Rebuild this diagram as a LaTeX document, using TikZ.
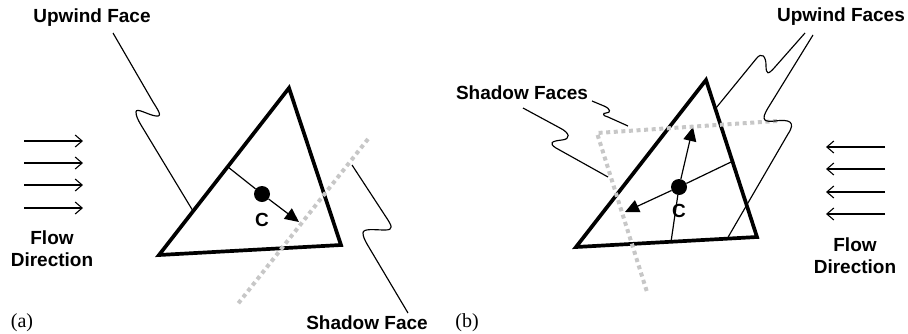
\documentclass[tikz,border=0pt]{standalone}
\usepackage{fontspec}
\setmainfont{Liberation Serif}
\setsansfont{Liberation Sans}
\usetikzlibrary{arrows.meta}

\tikzset{
  edgeline/.style={line width=3.7pt, line join=miter, line cap=round},
  leader/.style={line width=1.15pt},
  flowarrow/.style={line width=1.1pt, -{Straight Barb[length=7pt,width=12pt,line width=1.1pt]}},
  normalvec/.style={line width=1.2pt, -{Triangle[length=14pt,width=13pt]}},
  plainvec/.style={line width=1.2pt},
  centroid/.style={circle, fill=black, inner sep=0pt, minimum size=16pt},
  shadowline/.style={line width=4pt, color=black!22, dash pattern=on 4pt off 3.6pt},
  lbl/.style={font=\sffamily\bfseries\fontsize{19}{22}\selectfont, inner sep=0pt, align=center},
  panel/.style={font=\rmfamily\fontsize{20}{22}\selectfont, inner sep=0pt}
}

\begin{document}
\begin{tikzpicture}[x=1pt, y=-1pt]
\useasboundingbox (0,0) rectangle (908,333);

% ---------------- panel (a): flow from the left ----------------
\coordinate (a1) at (159,255);
\coordinate (b1) at (289,88);
\coordinate (c1) at (341,245);
\draw[edgeline] (a1) -- (b1) -- (c1) -- cycle;

% centroid and normal towards the shadow face
\coordinate (u1) at (228,167);
\node[centroid] (cc1) at (262,194) {};
\coordinate (t1) at (299,222);
\draw[plainvec] (u1) -- (cc1);
\draw[normalvec] (cc1) -- (t1);
\node[lbl] (clab1) at (262,220) {C};

% shadow plane
\coordinate (s1a) at (368,139);
\coordinate (s1b) at (237,305);
\draw[shadowline] (s1a) -- (s1b);

% flow arrows
\foreach \yy [count=\i] in {141,163,185,208} {
  \coordinate (fl\i s) at (24,\yy);
  \coordinate (fl\i e) at (83,\yy);
  \draw[flowarrow] (fl\i s) -- (fl\i e);
}
\node[lbl] (flow1) at (52,249) {Flow\\Direction};

% labels and leaders
\node[lbl] (up1) at (92,18) {Upwind Face};
\coordinate (up1s) at (113,33);
\coordinate (up1e) at (193,211);
\draw[leader] (up1s) -- (153,102)
  .. controls (158,110) and (163,117) .. (156,116)
  .. controls (148,115) and (136,107) .. (136,112)
  .. controls (136,116) and (138,120) .. (141,125) -- (up1e);

\node[lbl] (sh1) at (367,323) {Shadow Face};
\coordinate (sh1s) at (352,165);
\coordinate (sh1e) at (408,313);
\draw[leader] (sh1s) -- (386,217)
  .. controls (392,226) and (394,230) .. (385,230)
  .. controls (375,230) and (363,228) .. (363,233)
  .. controls (363,237) and (365,240) .. (367,244) -- (sh1e);

\node[panel] (pa) at (22,323) {(a)};

% ---------------- panel (b): flow from the right ----------------
\coordinate (a2) at (576,247);
\coordinate (b2) at (706,80);
\coordinate (c2) at (757,237);
\draw[edgeline] (a2) -- (b2) -- (c2) -- cycle;

\node[centroid] (cc2) at (679,187) {};
\coordinate (r2) at (731,162);
\coordinate (d2) at (671,242);
\coordinate (t2up) at (693,127);
\coordinate (t2left) at (625,212);
\draw[plainvec] (cc2) -- (r2);
\draw[plainvec] (cc2) -- (d2);
\draw[normalvec] (cc2) -- (t2up);
\draw[normalvec] (cc2) -- (t2left);
\node[lbl] (clab2) at (679,211) {C};

% shadow planes
\coordinate (s2a) at (777,121);
\coordinate (s2b) at (597,133);
\coordinate (s2c) at (647,292);
\draw[shadowline] (s2a) -- (s2b) -- (s2c);

% flow arrows
\foreach \yy [count=\i] in {147,169,192,214} {
  \coordinate (fr\i s) at (885,\yy);
  \coordinate (fr\i e) at (826,\yy);
  \draw[flowarrow] (fr\i s) -- (fr\i e);
}
\node[lbl] (flow2) at (855,256) {Flow\\Direction};

% labels and leaders
\node[lbl] (up2) at (841,17) {Upwind Faces};
\coordinate (up2as) at (805,33);
\coordinate (up2ae) at (716,108);
\draw[leader] (up2as) -- (775,67)
  .. controls (768,75) and (766,75) .. (766,65)
  .. controls (766,57) and (762,51) .. (756,59) -- (up2ae);
\coordinate (up2bs) at (813,35);
\coordinate (up2be) at (727,239);
\draw[leader] (up2bs) -- (768,108)
  .. controls (760,121) and (765,122) .. (775,121)
  .. controls (790,119) and (796,122) .. (788,134) -- (up2be);

\node[lbl] (sh2) at (522,93) {Shadow Faces};
\coordinate (sh2as) at (592,101);
\coordinate (sh2ae) at (628,126);
\draw[leader] (sh2as) -- (604,106)
  .. controls (611,109) and (611,113) .. (606,113)
  .. controls (602,113) and (603,116) .. (608,117) -- (sh2ae);
\coordinate (sh2bs) at (523,108);
\coordinate (sh2be) at (608,177);
\draw[leader] (sh2bs) -- (560,128)
  .. controls (570,133) and (571,139) .. (562,140)
  .. controls (552,141) and (548,143) .. (556,148) -- (sh2be);

\node[panel] (pb) at (467,323) {(b)};
\end{tikzpicture}
\end{document}
